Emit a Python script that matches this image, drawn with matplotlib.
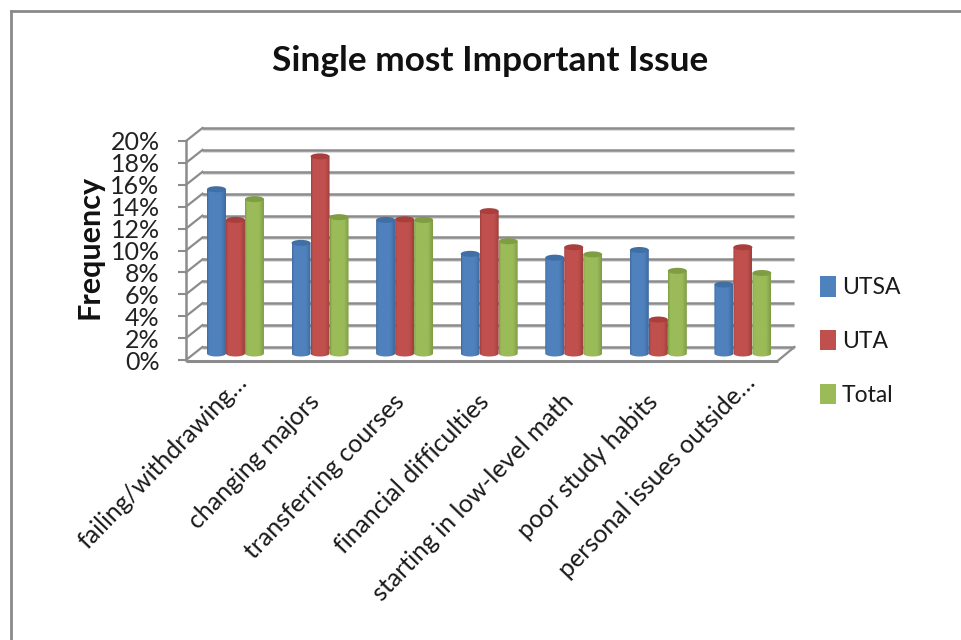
import matplotlib
matplotlib.use('Agg')
import matplotlib.pyplot as plt
import numpy as np
from matplotlib.colors import LinearSegmentedColormap
from matplotlib.lines import Line2D
from matplotlib.patches import Ellipse, Patch, PathPatch
from matplotlib.path import Path
from matplotlib.transforms import Affine2D

plt.rcParams['font.family'] = ['Lato', 'DejaVu Sans']

# survey results, percent of respondents
categorias = ['failing/withdrawing…', 'changing majors', 'transferring courses',
              'financial difficulties', 'starting in low-level math',
              'poor study habits', 'personal issues outside…']
utsa = [15.0, 10.1, 12.2, 9.1, 8.75, 9.45, 6.3]
uta = [12.2, 18.0, 12.25, 13.0, 9.7, 3.1, 9.7]
total = [14.1, 12.45, 12.2, 10.25, 9.05, 7.55, 7.35]
marcas_y = list(range(0, 21, 2))

nomes = ['UTSA', 'UTA', 'Total']
series = [utsa, uta, total]
cores = ['#4F81BD', '#C0504D', '#9BBB59']
escuras = ['#3E6A9E', '#A03F3D', '#7F9C46']
tampas = ['#3F6FA5', '#A83F3C', '#7F9D42']

W, H = 961, 640
CINZA = '#8C8C8C'

fig = plt.figure(figsize=(W / 100, H / 100), dpi=100, facecolor='white')
ax = fig.add_axes([186 / W, 1 - 360 / H, 592 / W, 219 / H])

# depth of the 3D box, in data units
prof_x = 0.195
prof_y = 1.19
larg = 0.2246
elipse = 0.55
desvio_x = 0.085

x0, x1 = -0.5, 6.5

# back wall gridlines, each with a soft shadow underneath
for v in marcas_y:
    ax.plot([x0 + prof_x, x1 + prof_x], [v + prof_y - 0.09] * 2, color='#DDDDDD', lw=2.2,
            clip_on=False, zorder=1, solid_capstyle='butt')
    ax.plot([x0 + prof_x, x1 + prof_x], [v + prof_y] * 2, color=CINZA, lw=1.8,
            clip_on=False, zorder=1.2, solid_capstyle='butt')
    # side wall
    ax.plot([x0, x0 + prof_x], [v, v + prof_y], color=CINZA, lw=1.6,
            clip_on=False, zorder=1.2)

# floor edges and the front vertical axis
ax.plot([x0, x0], [0, 20], color=CINZA, lw=1.8, clip_on=False, zorder=1.5)
ax.plot([x0, x1], [-0.05, -0.05], color=CINZA, lw=2.2, clip_on=False, zorder=1.5,
        solid_capstyle='butt')
ax.plot([x0, x1], [-0.18, -0.18], color='#DDDDDD', lw=1.2, clip_on=False, zorder=1.4,
        solid_capstyle='butt')
ax.plot([x1, x1 + prof_x], [-0.05, prof_y], color=CINZA, lw=1.6, clip_on=False, zorder=1.5)

# horizontal shading so the bars read as cylinders
grad = np.linspace(0, 1, 64).reshape(1, -1)
for s, valores in enumerate(series):
    mapa = LinearSegmentedColormap.from_list(
        'cil', [(0, escuras[s]), (0.1, cores[s]), (0.75, cores[s]), (1, escuras[s])])
    for i, v in enumerate(valores):
        cx = i + desvio_x + (s - 1) * larg
        cy = prof_y / 2
        esq, dir_ = cx - larg / 2, cx + larg / 2
        t = np.linspace(np.pi, 2 * np.pi, 25)
        base_x = cx + larg / 2 * np.cos(t)
        base_y = cy + elipse / 2 * np.sin(t)
        verts = list(zip(base_x, base_y)) + [(dir_, cy + v), (esq, cy + v), (esq, cy)]
        codes = [Path.MOVETO] + [Path.LINETO] * (len(verts) - 2) + [Path.CLOSEPOLY]
        contorno = PathPatch(Path(verts, codes), fc='none', ec='none', zorder=3 + s * 0.1 + i)
        ax.add_patch(contorno)
        im = ax.imshow(grad, cmap=mapa, extent=[esq, dir_, cy - elipse, cy + v], aspect='auto',
                       zorder=3 + s * 0.1 + i, interpolation='bilinear')
        im.set_clip_path(contorno)
        ax.add_patch(Ellipse((cx, cy + v), larg, elipse, fc=tampas[s], ec='none',
                             zorder=3.05 + s * 0.1 + i))

ax.set_xlim(x0, x1)
ax.set_ylim(0, 20)
for lado in ax.spines.values():
    lado.set_visible(False)
ax.patch.set_visible(False)

ax.set_yticks(marcas_y)
ax.set_yticklabels([f'{v}%' for v in marcas_y], fontsize=18, color='#222222')
ax.tick_params(axis='y', length=6, width=1.5, color=CINZA, pad=13)

ax.set_xticks(range(len(categorias)))
ax.set_xticklabels(categorias, rotation=46, ha='right', va='top', rotation_mode='anchor',
                   fontsize=18, color='#1A1A1A')
ax.tick_params(axis='x', length=0, pad=21.4)
# truncated labels sit further up along their slant
for rotulo, nome in zip(ax.get_xticklabels(), categorias):
    desl = (7, 19) if nome.endswith('…') else (-5, 0)
    rotulo.set_transform(rotulo.get_transform() + Affine2D().translate(*desl))

fig.text(490 / W, 1 - 61 / H, 'Single most Important Issue', fontsize=25.4, fontweight='bold',
         ha='center', va='center', color='#111111')
fig.text(90 / W, 1 - 247 / H, 'Frequency', fontsize=22, fontweight='bold', rotation=90,
         ha='center', va='center', color='#111111')

alcas = [Patch(fc=c, ec='none') for c in cores]
fig.legend(alcas, nomes, loc='center left', bbox_to_anchor=(799 / W, 1 - 341 / H), frameon=False,
           fontsize=16.5, handlelength=0.7, handleheight=0.98, handletextpad=0.26, labelspacing=1.38,
           labelcolor='#1A1A1A')

# outer chart frame, open at the bottom and right
fig.add_artist(Line2D([10.5 / W, 10.5 / W], [0, 1 - 10.5 / H], color='#8A8A8A', lw=2))
fig.add_artist(Line2D([10.5 / W, 1], [1 - 10.5 / H, 1 - 10.5 / H], color='#8A8A8A', lw=2))

fig.savefig('out.png', dpi=100, facecolor='white')
